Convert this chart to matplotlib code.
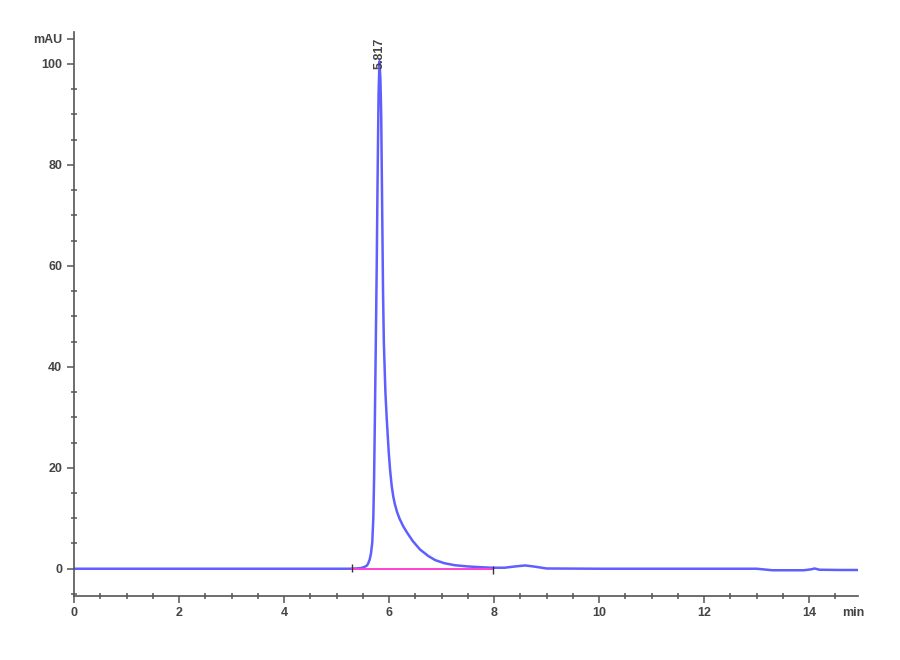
import numpy as np
import matplotlib.pyplot as plt
from matplotlib.ticker import MultipleLocator
import matplotlib.transforms as mtransforms

plt.rcParams['font.family'] = ['Liberation Sans Narrow', 'Liberation Sans', 'DejaVu Sans']
plt.rcParams['font.size'] = 9

# хроматограмма (мин, mAU)
time_min = [0.0, 2.0, 4.0, 5.0, 5.25, 5.45, 5.52, 5.575, 5.60, 5.63, 5.655, 5.68,
            5.70, 5.715, 5.73, 5.75, 5.765, 5.78, 5.80, 5.817, 5.835, 5.85, 5.87,
            5.885, 5.90, 5.93, 5.956, 5.994, 6.02, 6.05, 6.08, 6.11, 6.15, 6.20,
            6.27, 6.34, 6.45, 6.59, 6.75, 6.88, 7.05, 7.25, 7.50, 7.75, 7.95,
            8.20, 8.40, 8.59, 8.75, 9.00, 10.0, 12.0, 13.0, 13.3, 13.9, 14.05,
            14.1, 14.2, 14.6, 14.93]
signal_mau = [0.0, 0.0, 0.0, 0.0, 0.0, 0.1, 0.3, 0.6, 1.0, 1.8, 3.0, 5.2,
              10.0, 18.0, 30.0, 47.0, 60.0, 76.0, 94.0, 100.5, 97.0, 90.0, 70.0,
              55.0, 45.0, 35.0, 29.6, 23.0, 19.5, 16.4, 14.3, 12.8, 11.3, 9.9,
              8.4, 7.2, 5.5, 3.8, 2.5, 1.7, 1.1, 0.7, 0.45, 0.3, 0.2,
              0.2, 0.45, 0.65, 0.45, 0.05, 0.0, 0.0, 0.0, -0.3, -0.3, -0.1,
              0.05, -0.2, -0.25, -0.25]

# базовая линия интегрирования
base_t = [5.30, 7.98]
base_v = [0.0, 0.0]

peak_t = 5.817
peak_label = '5.817'

fig = plt.figure(figsize=(9, 6.6), dpi=100)
ax = fig.add_axes([74/900, 64/660, 784/900, 564/660])

ax.plot(time_min, signal_mau, color='#4d4dff', lw=1.8, alpha=0.9)
ax.plot(base_t, base_v, color='#ff40d0', lw=1.4)
ax.plot(base_t, [0.2, -0.3], ls='none', marker='|', ms=6, color='#333333', mew=1.0)

ax.text(peak_t, 99, peak_label, rotation=90, ha='center', va='bottom',
        color='#444444', fontsize=9, fontweight='bold', clip_on=False)

ax.set_xlim(0, 14.93)
ax.set_ylim(-5.4, 106.3)

ax.set_xticks([0, 2, 4, 6, 8, 10, 12, 14])
ax.xaxis.set_minor_locator(MultipleLocator(0.5))
ax.set_yticks([0, 20, 40, 60, 80, 100, 105])
ax.set_yticklabels(['0', '20', '40', '60', '80', '100', 'mAU'])
ax.yaxis.set_minor_locator(MultipleLocator(5))

for s in ['top', 'right']:
    ax.spines[s].set_visible(False)
for s in ['left', 'bottom']:
    ax.spines[s].set_color('#555555')
    ax.spines[s].set_linewidth(1.2)

ax.tick_params(which='major', direction='out', length=5, width=1.1,
               color='#555555', labelcolor='#444444', labelsize=9)
ax.tick_params(which='minor', direction='inout', length=4, width=1.1, color='#555555')
ax.tick_params(axis='x', pad=3)
for lab in ax.get_xticklabels() + ax.get_yticklabels():
    lab.set_fontweight('bold')

trans = mtransforms.blended_transform_factory(ax.transData, ax.transAxes)
ax.text(14.84, -0.02, 'min', transform=trans, ha='center', va='top',
        color='#444444', fontsize=9, fontweight='bold')

fig.savefig('out.png', dpi=100)
